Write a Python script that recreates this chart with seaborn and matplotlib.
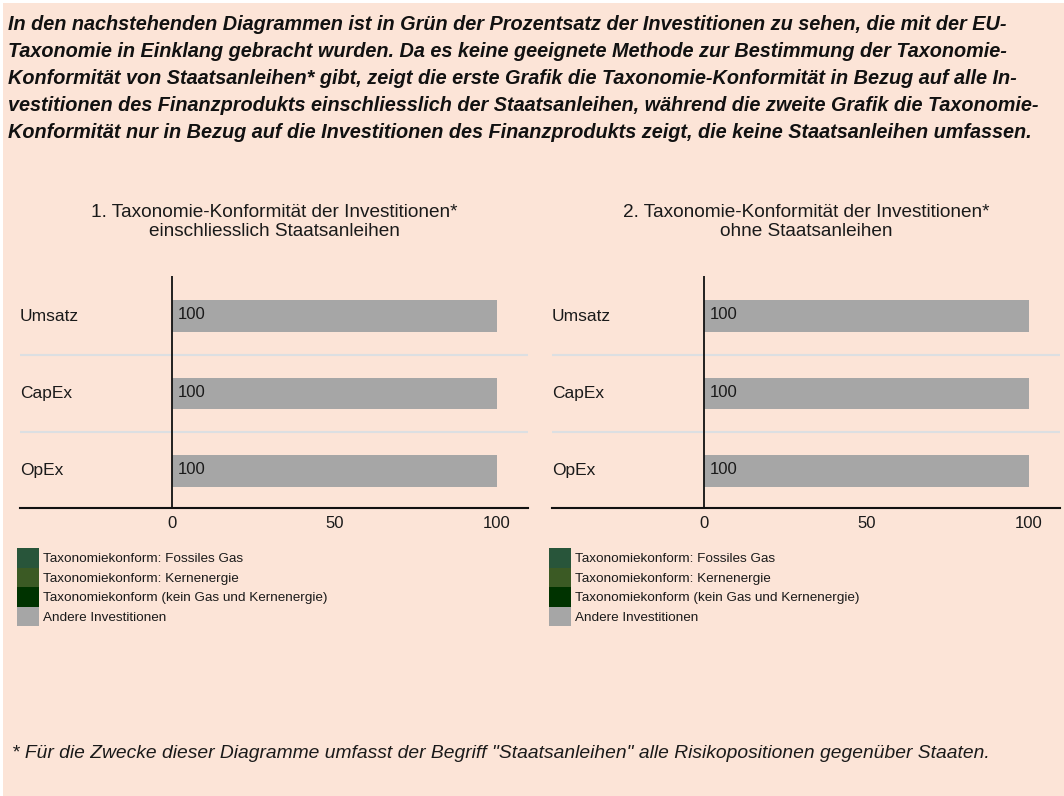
"""
EU-Taxonomie Konformitaet: zwei gestapelte Balkendiagramme (mit / ohne Staatsanleihen).
"""

import numpy as np
import pandas as pd
import matplotlib.pyplot as plt
import seaborn as sns
from matplotlib.patches import Patch, Rectangle

# --- Daten ---------------------------------------------------------------
categories = ['Umsatz', 'CapEx', 'OpEx']
series_labels = ['Taxonomiekonform: Fossiles Gas',
                 'Taxonomiekonform: Kernenergie',
                 'Taxonomiekonform (kein Gas und Kernenergie)',
                 'Andere Investitionen']
series_colors = ['#28553a', '#3b5a24', '#003300', '#a6a6a6']

# Grafik 1: einschliesslich Staatsanleihen (in %)
incl_gas = [0, 0, 0]
incl_nuclear = [0, 0, 0]
incl_aligned = [0, 0, 0]
incl_other = [100, 100, 100]

# Grafik 2: ohne Staatsanleihen (in %)
excl_gas = [0, 0, 0]
excl_nuclear = [0, 0, 0]
excl_aligned = [0, 0, 0]
excl_other = [100, 100, 100]

x_ticks = [0, 50, 100]

titles = ['1. Taxonomie-Konformität der Investitionen*\neinschliesslich Staatsanleihen',
          '2. Taxonomie-Konformität der Investitionen*\nohne Staatsanleihen']

header = ("In den nachstehenden Diagrammen ist in Grün der Prozentsatz der Investitionen zu sehen, die mit der EU-\n"
          "Taxonomie in Einklang gebracht wurden. Da es keine geeignete Methode zur Bestimmung der Taxonomie-\n"
          "Konformität von Staatsanleihen* gibt, zeigt die erste Grafik die Taxonomie-Konformität in Bezug auf alle In-\n"
          "vestitionen des Finanzprodukts einschliesslich der Staatsanleihen, während die zweite Grafik die Taxonomie-\n"
          "Konformität nur in Bezug auf die Investitionen des Finanzprodukts zeigt, die keine Staatsanleihen umfassen.")
footnote = ('* Für die Zwecke dieser Diagramme umfasst der Begriff "Staatsanleihen" '
            'alle Risikopositionen gegenüber Staaten.')

BG = '#fce4d7'
W, H = 1064, 796

sns.set_theme(style='white')
plt.rcParams['font.family'] = ['Liberation Sans', 'DejaVu Sans']
plt.rcParams['text.color'] = '#1a1a1a'


def draw_panel(ax, layers, title):
    df = pd.DataFrame(dict(zip(series_labels, layers)), index=categories)
    cum = df.cumsum(axis=1)

    # stacked bars: draw the cumulative totals from the back to the front
    for label, color in zip(series_labels[::-1], series_colors[::-1]):
        sns.barplot(x=cum[label].values, y=categories, orient='h', color=color,
                    saturation=1, width=0.41, linewidth=0, ax=ax)

    # value labels at the start of each non-empty segment
    starts = cum - df
    for i, cat in enumerate(categories):
        for label in series_labels:
            v = df.loc[cat, label]
            if v > 0:
                ax.annotate(f'{v:.0f}', xy=(starts.loc[cat, label], i), xytext=(4, 1),
                            textcoords='offset points', va='center', ha='left',
                            fontsize=12, color='#1a1a1a')

    # category names inside the plot area on the left
    for i, cat in enumerate(categories):
        ax.text(0.0, i, cat, transform=ax.get_yaxis_transform(), ha='left',
                va='center', fontsize=12.5, color='#1a1a1a')

    for sep in np.arange(len(categories) - 1) + 0.5:
        ax.axhline(sep, color='#dcdfe2', lw=1.5, zorder=0)
    ax.axvline(0, color='#111111', lw=1.3, zorder=3)

    ax.set_xlim(-46.8, 109.5)
    ax.set_ylim(len(categories) - 0.52, -0.52)
    ax.set_xticks(x_ticks)
    ax.set_xticklabels([str(t) for t in x_ticks], fontsize=12)
    ax.set_yticks([])
    ax.set_xlabel('')
    ax.set_ylabel('')
    ax.tick_params(axis='x', length=0, pad=6, colors='#1a1a1a')
    ax.set_facecolor('none')
    for side in ['top', 'right', 'left']:
        ax.spines[side].set_visible(False)
    ax.spines['bottom'].set_color('#111111')
    ax.spines['bottom'].set_linewidth(1.5)

    ax.annotate(title, xy=(0.5, 1.0), xycoords='axes fraction', xytext=(0, 54),
                textcoords='offset pixels', ha='center', va='center',
                fontsize=13.7, linespacing=1.22, color='#1a1a1a')


fig = plt.figure(figsize=(W / 100, H / 100), dpi=100)
fig.patch.set_facecolor('white')
fig.patches.append(Rectangle((3 / W, 0), 1, 1 - 3 / H, transform=fig.transFigure,
                             facecolor=BG, edgecolor='none', zorder=-10))

ax1 = fig.add_axes([20 / W, 1 - 508 / H, 508 / W, 232 / H])
ax2 = fig.add_axes([552 / W, 1 - 508 / H, 508 / W, 232 / H])

draw_panel(ax1, [incl_gas, incl_nuclear, incl_aligned, incl_other], titles[0])
draw_panel(ax2, [excl_gas, excl_nuclear, excl_aligned, excl_other], titles[1])

handles = [Patch(facecolor=c, edgecolor='none') for c in series_colors]
for x0 in [17, 549]:
    fig.legend(handles, series_labels, loc='upper left',
               bbox_to_anchor=(x0 / W, 1 - 548 / H), frameon=False, fontsize=9.7,
               handlelength=1.6, handleheight=1.86, handletextpad=0.3,
               labelspacing=0, borderpad=0, borderaxespad=0)

fig.text(8 / W, 1 - 15 / H, header, ha='left', va='top', fontsize=14.3,
         fontweight='bold', style='italic', linespacing=1.53, color='#111111')
fig.text(12 / W, 1 - 753 / H, footnote, ha='left', va='center', fontsize=13.85,
         style='italic', color='#1a1a1a')

plt.savefig('out.png', dpi=100, facecolor=fig.get_facecolor())
